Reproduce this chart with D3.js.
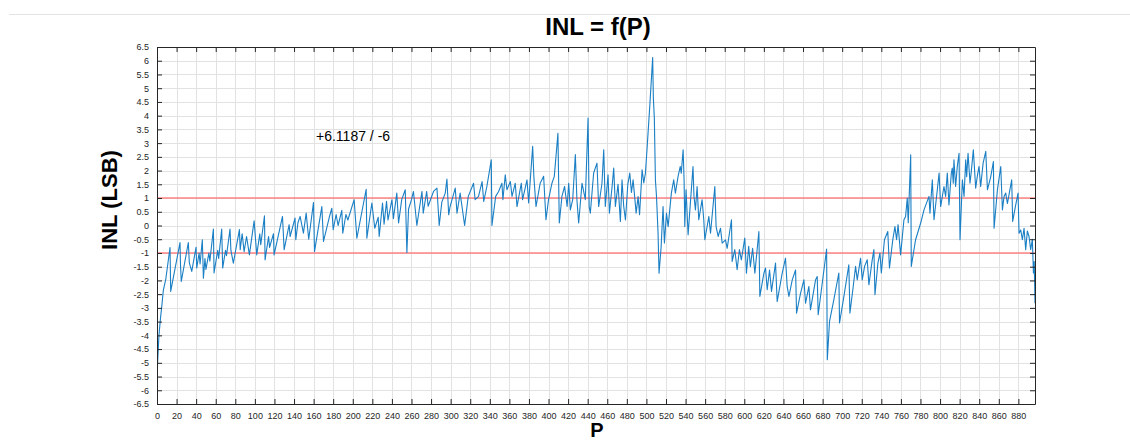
<!DOCTYPE html>
<html><head><meta charset="utf-8">
<script src="https://cdn.jsdelivr.net/npm/d3@7"></script>
<style>body{margin:0;background:#fff;} svg{display:block;font-family:"Liberation Sans",Arial,Helvetica,sans-serif;}</style>
</head><body><svg id="c" width="1130" height="443"></svg>
<script>
// ---- data ----
const titleText = "INL = f(P)";
const xLabel = "P";
const yLabel = "INL (LSB)";
const annotation = "+6.1187 / -6";
const xDomain = [0, 897];
const yDomain = [-6.5, 6.5];
const xTicks = d3.range(0, 881, 20);
const yTicks = d3.range(-6.5, 6.51, 0.5);
const limitLines = [1, -1];
// INL vertices: [P, INL]
const inl = [
[0,-5.8],[0.6,-5.0],[2,-4.0],[3.5,-3.4],[5,-2.9],[6.5,-2.35],[9,-1.95],[13.3,-0.8],
[14,-2.4],[23.5,-0.62],[24,-1.43],[24.8,-2.04],[32,-0.62],[33,-1.35],[35.5,-1.67],[39.9,-0.79],
[40.6,-1.55],[43,-1.0],[44,-1.4],[46.3,-0.52],[47.4,-1.92],[49,-1.2],[50,-1.6],[53,-1.0],
[54,-1.3],[57.6,-0.13],[58.3,-1.73],[62,-0.9],[63,-1.2],[66.1,-0.13],[67.1,-1.55],[70,-0.9],
[71,-1.1],[74.6,-0.13],[75.5,-0.9],[78,-1.37],[84.2,-0.15],[85,-0.88],[87,-0.3],[89,-0.95],
[91.5,-0.4],[94.4,-1.07],[99.2,0.17],[101.9,-1.07],[105,-0.3],[106,-0.7],[109.8,0.35],[110.4,-1.25],
[114,-0.4],[115,-0.8],[119,-0.3],[119.6,-1.07],[128.2,0.33],[129.9,-0.88],[135,0.03],[136,-0.4],
[141,0.27],[141.8,-0.52],[144,0.1],[146.2,0.33],[149.6,-0.28],[152.4,0.45],[155,-0.5],[159.9,0.84],
[160.9,-0.95],[168.4,0.69],[170.1,-0.58],[176,0.3],[178.6,0.63],[180,-0.15],[183,0.4],[185,0.0],
[188.8,0.55],[189.8,-0.28],[193,0.4],[195,0.2],[201.4,0.94],[204.2,-0.46],[213.7,1.32],[214.4,-0.46],
[219.5,0.82],[222.5,-0.1],[226,0.3],[227,-0.4],[230.4,0.82],[232,0.05],[234.5,0.88],[236,0.2],
[240,0.94],[241.5,0.25],[245,1.18],[246.8,0.09],[250,0.94],[253.6,1.3],[255.3,-0.98],[257,0.6],
[260,0.94],[262,1.24],[265.5,0.0],[270.7,1.24],[272,0.45],[275.5,1.24],[277,0.7],[282.5,1.24],
[286,1.36],[288.3,0.0],[291,0.85],[294.5,1.18],[296.2,1.69],[298,0.39],[299.5,0.7],[304.7,1.36],
[306.5,0.45],[309.7,1.18],[314.3,0.0],[318,1.06],[323.4,1.54],[325,0.94],[328.5,1.06],[332.1,1.6],
[333.8,0.88],[337,1.42],[341.5,2.39],[342.2,0.0],[346,1.06],[349,1.24],[352.4,1.54],[353.4,0.94],
[355.8,1.85],[357.5,1.3],[361,1.6],[362.7,1.06],[366,1.54],[367.8,0.69],[372.2,1.54],[373.5,0.94],
[378,1.66],[379.7,0.82],[383.8,2.88],[385,1.79],[387.2,0.69],[391.5,1.54],[395,1.79],[397.4,0.21],
[400,0.94],[403.5,1.54],[405.9,1.79],[409.6,3.36],[411,0.09],[413.7,1.06],[416.4,1.42],[419,0.69],
[420.6,1.54],[422.3,0.57],[424.7,0.94],[427.4,2.58],[429,0.94],[430.8,0.09],[434.2,1.54],[437.6,0.94],
[440.4,3.91],[441.5,0.69],[442.7,0.45],[446.1,1.91],[449.5,2.27],[451.2,0.69],[454.6,1.54],[456.4,2.76],
[458,0.69],[460.8,1.85],[462.2,0.45],[464.9,1.4],[466.6,2.09],[468.3,0.69],[471,1.5],[473.4,0.15],
[475.1,1.66],[476.8,0.7],[478.6,0.2],[481,1.5],[483,1.91],[484.7,1.2],[486.4,1.66],[488,1.05],
[489.5,0.45],[491.5,1.05],[493,0.39],[495.6,2.03],[497.3,1.55],[499,1.91],[500.6,2.76],[503.4,4.33],
[506.4,6.12],[507.1,4.64],[508.1,3.91],[509.2,1.66],[510.3,1.06],[511.9,-0.28],[512.9,-1.74],[515,-0.8],
[517,0.69],[518.4,-0.64],[520.5,0.45],[522.2,-0.04],[525.5,1.18],[527.9,1.66],[529.6,1.18],[532.3,1.78],
[534.6,2.15],[535.6,1.9],[537.5,2.76],[538.5,1.66],[539.2,-0.04],[540.5,1.3],[542.6,-0.34],[547.6,2.15],
[548.6,1.06],[550.1,0.57],[551.8,1.42],[553.5,0.21],[556.9,0.94],[558.6,0.21],[559.7,-0.52],[563.8,0.33],
[565.5,-0.28],[569.9,1.42],[571.2,-0.04],[573.3,-0.4],[575.7,-0.1],[577.4,-0.64],[580.8,-0.52],[582.5,-0.83],
[586.9,0.21],[587.6,-1.31],[590.3,-0.88],[592.7,-1.61],[595,-0.88],[597,-1.25],[600.5,-0.46],[602.2,-1.74],
[604.5,-0.76],[606.2,-1.5],[608.5,-0.83],[610.8,-1.74],[614.9,-0.22],[615.9,-2.58],[620,-1.74],[621.7,-1.55],
[623.4,-2.34],[625.8,-1.62],[627.8,-2.4],[631.9,-1.37],[633.6,-2.77],[638.7,-1.74],[642.1,-1.19],[643.8,-2.22],
[645.6,-2.58],[649,-1.98],[652.4,-1.62],[653.4,-3.19],[657.5,-2.46],[660.9,-1.98],[662.6,-2.83],[666,-2.22],
[667.6,-3.07],[672.8,-1.98],[674.5,-1.86],[675.5,-3.25],[684.1,-0.86],[684.8,-4.89],[687.1,-3.49],[691.5,-2.7],
[696.6,-1.73],[697.3,-3.55],[701.7,-2.6],[706.8,-1.43],[707.9,-3.19],[711.3,-2.22],[713.7,-1.49],[715.4,-1.98],
[718.8,-1.19],[720.5,-1.98],[722.9,-1.49],[725.6,-1.25],[727.3,-2.16],[730.7,-1.25],[732.4,-0.88],[733.5,-2.52],
[736.5,-1.37],[738.6,-1.0],[740,-1.73],[743.2,-0.52],[746.6,-0.22],[748.3,-1.55],[751.7,-0.52],[753.9,-0.04],
[755.6,-0.52],[757.1,0.03],[759.7,-1.07],[763.1,0.21],[764.8,0.33],[766.5,1.0],[767.5,0.1],[770,2.57],
[770.6,-1.49],[775,-0.52],[780.2,0.09],[783.6,0.57],[788.7,1.06],[789.7,0.45],[792.1,1.66],[793.8,0.21],
[797.2,1.3],[799,1.91],[800.6,0.69],[804,1.42],[805.7,1.06],[807.4,1.91],[809.1,0.75],[811.5,1.9],
[812.5,2.09],[813.5,1.54],[814.2,2.39],[815.9,1.42],[817.6,2.15],[819.4,2.63],[820.4,-0.52],[822.8,1.66],
[824.5,1.06],[826.2,2.39],[827.2,1.78],[828.6,2.63],[830.6,1.54],[832,2.0],[834,2.76],[836.4,1.36],
[838,1.78],[839.8,2.15],[841.5,1.42],[844,2.27],[846.7,2.70],[848.4,1.3],[851.8,1.78],[854.5,2.33],
[855.2,-0.1],[858.6,1.3],[862,2.15],[863.7,0.57],[865.4,1.06],[867.1,1.18],[868.8,0.8],[873.2,1.66],
[874.2,0.15],[877,0.7],[879.7,1.18],[880.7,-0.28],[882.4,-0.16],[884.1,-0.52],[885.8,-0.1],[887.5,-0.88],
[889.2,-0.2],[890.9,-0.4],[892.6,-0.88],[894.3,-0.5],[895.4,-1.73],[896.2,-1.31],[897,-2.83]
];

// ---- layout ----
const svg = d3.select("#c");
const L = 157, R = 1035, T = 47, B = 404;
const x = d3.scaleLinear().domain(xDomain).range([L, R]);
const y = d3.scaleLinear().domain(yDomain).range([B, T]);
const fmt = d => String(d);

// top separator line
svg.append("line").attr("x1", 9).attr("x2", 1130).attr("y1", 14.5).attr("y2", 14.5)
  .attr("stroke", "#e3e3e3").attr("stroke-width", 1);

// grid
const grid = svg.append("g").attr("stroke", "#e2e2e2").attr("stroke-width", 1);
grid.selectAll("line.gx").data(xTicks.filter(d => d > 0)).join("line")
  .attr("class", "gx")
  .attr("x1", d => Math.round(x(d)) + 0.5).attr("x2", d => Math.round(x(d)) + 0.5)
  .attr("y1", T).attr("y2", B);
grid.selectAll("line.gy").data(yTicks.filter(d => d > yDomain[0] && d < yDomain[1])).join("line")
  .attr("class", "gy")
  .attr("y1", d => Math.round(y(d)) + 0.5).attr("y2", d => Math.round(y(d)) + 0.5)
  .attr("x1", L).attr("x2", R);

// limit lines
svg.append("g").selectAll("line").data(limitLines).join("line")
  .attr("x1", L).attr("x2", R)
  .attr("y1", d => y(d)).attr("y2", d => y(d))
  .attr("stroke", "#ff7070").attr("stroke-width", 1.5).attr("opacity", 0.85);

// clip + data line
svg.append("clipPath").attr("id", "clip").append("rect")
  .attr("x", L).attr("y", T).attr("width", R - L).attr("height", B - T);
svg.append("path").datum(inl)
  .attr("clip-path", "url(#clip)")
  .attr("fill", "none").attr("stroke", "#1a7fc4").attr("stroke-width", 1.1)
  .attr("stroke-linejoin", "round")
  .attr("d", d3.line().x(d => x(d[0])).y(d => y(d[1])));

// axes (MATLAB style: inward ticks, box)
const axCol = "#262626";
const gB = svg.append("g").attr("transform", `translate(0,${B})`)
  .call(d3.axisBottom(x).tickValues(xTicks).tickFormat(fmt).tickSizeInner(-5).tickSizeOuter(0).tickPadding(9));
const gT = svg.append("g").attr("transform", `translate(0,${T})`)
  .call(d3.axisTop(x).tickValues(xTicks).tickFormat("").tickSizeInner(-5).tickSizeOuter(0));
const gL = svg.append("g").attr("transform", `translate(${L},0)`)
  .call(d3.axisLeft(y).tickValues(yTicks).tickFormat(fmt).tickSizeInner(-5).tickSizeOuter(0).tickPadding(8));
const gR = svg.append("g").attr("transform", `translate(${R},0)`)
  .call(d3.axisRight(y).tickValues(yTicks).tickFormat("").tickSizeInner(-5).tickSizeOuter(0));
[gB, gT, gL, gR].forEach(g => {
  g.selectAll("path.domain").attr("stroke", axCol).attr("stroke-width", 1);
  g.selectAll(".tick line").attr("stroke", axCol).attr("stroke-width", 1);
  g.selectAll(".tick text").attr("fill", "#262626").style("font-size", "9px")
    .style("font-family", '"Liberation Sans", Arial, sans-serif');
});

// title and labels
svg.append("text").attr("x", 598).attr("y", 35).attr("text-anchor", "middle")
  .style("font-size", "24px").style("font-weight", "bold").attr("fill", "#000").text(titleText);
svg.append("text").attr("transform", `translate(117,200) rotate(-90)`).attr("text-anchor", "middle")
  .style("font-size", "22px").style("font-weight", "bold").attr("fill", "#000").text(yLabel);
svg.append("text").attr("x", 597).attr("y", 437).attr("text-anchor", "middle")
  .style("font-size", "20px").style("font-weight", "bold").attr("fill", "#000").text(xLabel);
svg.append("text").attr("x", 316).attr("y", 141)
  .style("font-size", "14px").attr("fill", "#000").text(annotation);
</script>
</body></html>
